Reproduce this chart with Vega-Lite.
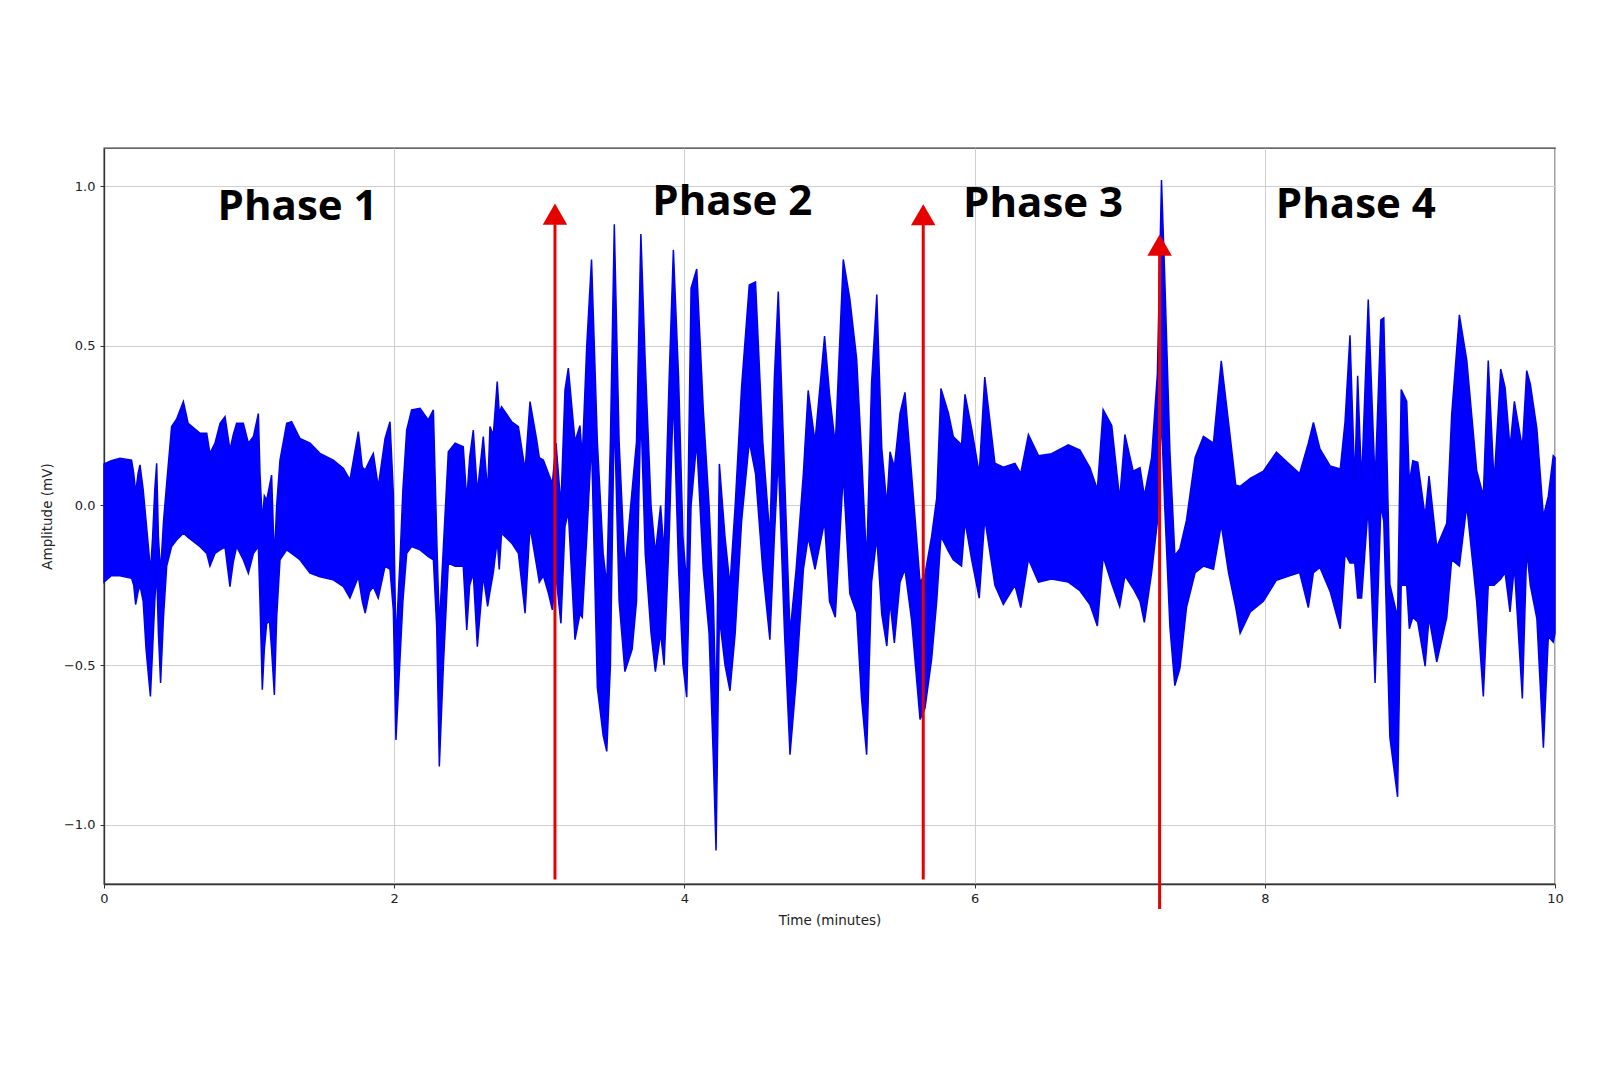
{
  "$schema": "https://vega.github.io/schema/vega-lite/v6.json",
  "autosize": "none",
  "width": 1451,
  "height": 736,
  "padding": {"left": 104, "top": 148, "right": 45, "bottom": 188},
  "background": "white",
  "config": {
    "font": "DejaVu Sans",
    "view": {"stroke": "#333333", "strokeWidth": 1.3},
    "axis": {
      "grid": true,
      "gridColor": "#cfcfcf",
      "gridWidth": 1,
      "domainColor": "#333333",
      "domainWidth": 1.3,
      "tickColor": "#333333",
      "tickSize": 4,
      "labelFont": "DejaVu Sans",
      "labelFontSize": 13,
      "labelColor": "#222222",
      "labelFlush": false,
      "titleFont": "DejaVu Sans",
      "titleFontSize": 13.5,
      "titleFontWeight": "normal",
      "titleColor": "#222222"
    }
  },
  "datasets": {
    "signal": [
      {"time":0.00,"upper":0.13,"lower":-0.24},
      {"time":0.05,"upper":0.14,"lower":-0.22},
      {"time":0.11,"upper":0.148,"lower":-0.22},
      {"time":0.19,"upper":0.142,"lower":-0.228},
      {"time":0.205,"upper":0.10,"lower":-0.25},
      {"time":0.218,"upper":0.04,"lower":-0.31},
      {"time":0.235,"upper":0.10,"lower":-0.27},
      {"time":0.248,"upper":0.127,"lower":-0.25},
      {"time":0.27,"upper":0.05,"lower":-0.3},
      {"time":0.29,"upper":-0.05,"lower":-0.45},
      {"time":0.31,"upper":-0.15,"lower":-0.55},
      {"time":0.32,"upper":-0.21,"lower":-0.598},
      {"time":0.335,"upper":-0.1,"lower":-0.45},
      {"time":0.35,"upper":0.05,"lower":-0.3},
      {"time":0.363,"upper":0.132,"lower":-0.2},
      {"time":0.375,"upper":-0.1,"lower":-0.4},
      {"time":0.39,"upper":-0.21,"lower":-0.556},
      {"time":0.41,"upper":-0.05,"lower":-0.35},
      {"time":0.432,"upper":0.069,"lower":-0.19},
      {"time":0.466,"upper":0.247,"lower":-0.129},
      {"time":0.50,"upper":0.27,"lower":-0.108},
      {"time":0.547,"upper":0.325,"lower":-0.087},
      {"time":0.58,"upper":0.257,"lower":-0.1},
      {"time":0.662,"upper":0.226,"lower":-0.129},
      {"time":0.708,"upper":0.226,"lower":-0.15},
      {"time":0.73,"upper":0.163,"lower":-0.19},
      {"time":0.765,"upper":0.195,"lower":-0.15},
      {"time":0.80,"upper":0.257,"lower":-0.139},
      {"time":0.834,"upper":0.278,"lower":-0.13},
      {"time":0.868,"upper":0.174,"lower":-0.254},
      {"time":0.89,"upper":0.22,"lower":-0.18},
      {"time":0.914,"upper":0.257,"lower":-0.129},
      {"time":0.96,"upper":0.257,"lower":-0.17},
      {"time":0.995,"upper":0.195,"lower":-0.212},
      {"time":1.03,"upper":0.216,"lower":-0.15},
      {"time":1.064,"upper":0.288,"lower":-0.129},
      {"time":1.075,"upper":0.10,"lower":-0.3},
      {"time":1.091,"upper":-0.05,"lower":-0.577},
      {"time":1.105,"upper":0.03,"lower":-0.45},
      {"time":1.121,"upper":0.017,"lower":-0.37},
      {"time":1.14,"upper":0.06,"lower":-0.36},
      {"time":1.155,"upper":0.095,"lower":-0.45},
      {"time":1.174,"upper":-0.17,"lower":-0.593},
      {"time":1.19,"upper":0.0,"lower":-0.35},
      {"time":1.213,"upper":0.142,"lower":-0.17},
      {"time":1.259,"upper":0.257,"lower":-0.139},
      {"time":1.293,"upper":0.262,"lower":-0.15},
      {"time":1.35,"upper":0.21,"lower":-0.17},
      {"time":1.42,"upper":0.195,"lower":-0.212},
      {"time":1.488,"upper":0.163,"lower":-0.223},
      {"time":1.58,"upper":0.142,"lower":-0.233},
      {"time":1.65,"upper":0.116,"lower":-0.254},
      {"time":1.695,"upper":0.08,"lower":-0.29},
      {"time":1.753,"upper":0.231,"lower":-0.223},
      {"time":1.78,"upper":0.12,"lower":-0.3},
      {"time":1.80,"upper":0.111,"lower":-0.337},
      {"time":1.83,"upper":0.14,"lower":-0.27},
      {"time":1.856,"upper":0.163,"lower":-0.254},
      {"time":1.89,"upper":0.059,"lower":-0.29},
      {"time":1.937,"upper":0.21,"lower":-0.19},
      {"time":1.971,"upper":0.262,"lower":-0.2},
      {"time":1.994,"upper":0.038,"lower":-0.327},
      {"time":2.012,"upper":-0.43,"lower":-0.734},
      {"time":2.04,"upper":-0.17,"lower":-0.48},
      {"time":2.06,"upper":0.05,"lower":-0.3},
      {"time":2.086,"upper":0.236,"lower":-0.15},
      {"time":2.12,"upper":0.299,"lower":-0.129},
      {"time":2.178,"upper":0.304,"lower":-0.139},
      {"time":2.235,"upper":0.268,"lower":-0.16},
      {"time":2.27,"upper":0.299,"lower":-0.17},
      {"time":2.293,"upper":-0.1,"lower":-0.38},
      {"time":2.311,"upper":-0.38,"lower":-0.817},
      {"time":2.339,"upper":-0.129,"lower":-0.5},
      {"time":2.373,"upper":0.168,"lower":-0.18},
      {"time":2.42,"upper":0.195,"lower":-0.19},
      {"time":2.476,"upper":0.184,"lower":-0.19},
      {"time":2.50,"upper":0.017,"lower":-0.39},
      {"time":2.52,"upper":0.15,"lower":-0.25},
      {"time":2.545,"upper":0.236,"lower":-0.212},
      {"time":2.573,"upper":0.04,"lower":-0.442},
      {"time":2.614,"upper":0.216,"lower":-0.22},
      {"time":2.644,"upper":0.04,"lower":-0.316},
      {"time":2.66,"upper":0.247,"lower":-0.27},
      {"time":2.683,"upper":0.22,"lower":-0.21},
      {"time":2.71,"upper":0.388,"lower":-0.108},
      {"time":2.724,"upper":0.29,"lower":-0.2},
      {"time":2.74,"upper":0.309,"lower":-0.087},
      {"time":2.81,"upper":0.262,"lower":-0.118},
      {"time":2.856,"upper":0.247,"lower":-0.15},
      {"time":2.902,"upper":0.111,"lower":-0.337},
      {"time":2.936,"upper":0.325,"lower":-0.066},
      {"time":2.982,"upper":0.205,"lower":-0.19},
      {"time":3.0,"upper":0.15,"lower":-0.24},
      {"time":3.028,"upper":0.142,"lower":-0.22},
      {"time":3.063,"upper":0.1,"lower":-0.275},
      {"time":3.09,"upper":0.069,"lower":-0.327},
      {"time":3.115,"upper":0.195,"lower":-0.22},
      {"time":3.149,"upper":0.0,"lower":-0.369},
      {"time":3.177,"upper":0.362,"lower":-0.066},
      {"time":3.20,"upper":0.43,"lower":-0.02},
      {"time":3.246,"upper":0.2,"lower":-0.42},
      {"time":3.28,"upper":0.25,"lower":-0.34},
      {"time":3.296,"upper":0.15,"lower":-0.35},
      {"time":3.327,"upper":0.5,"lower":-0.1},
      {"time":3.36,"upper":0.77,"lower":0.2},
      {"time":3.40,"upper":0.2,"lower":-0.57},
      {"time":3.44,"upper":-0.15,"lower":-0.72},
      {"time":3.465,"upper":-0.25,"lower":-0.77},
      {"time":3.49,"upper":0.2,"lower":-0.5},
      {"time":3.517,"upper":0.88,"lower":0.3},
      {"time":3.55,"upper":0.2,"lower":-0.3},
      {"time":3.59,"upper":-0.2,"lower":-0.52},
      {"time":3.64,"upper":0.05,"lower":-0.45},
      {"time":3.67,"upper":0.2,"lower":-0.3},
      {"time":3.70,"upper":0.85,"lower":0.3},
      {"time":3.73,"upper":0.45,"lower":-0.15},
      {"time":3.77,"upper":0.0,"lower":-0.4},
      {"time":3.80,"upper":-0.15,"lower":-0.52},
      {"time":3.836,"upper":0.0,"lower":-0.4},
      {"time":3.86,"upper":-0.15,"lower":-0.5},
      {"time":3.895,"upper":0.4,"lower":-0.1},
      {"time":3.924,"upper":0.8,"lower":0.35},
      {"time":3.96,"upper":0.4,"lower":-0.2},
      {"time":3.99,"upper":-0.1,"lower":-0.5},
      {"time":4.016,"upper":-0.25,"lower":-0.6},
      {"time":4.046,"upper":0.68,"lower":0.0},
      {"time":4.085,"upper":0.74,"lower":0.2},
      {"time":4.13,"upper":0.3,"lower":-0.2},
      {"time":4.17,"upper":0.0,"lower":-0.4},
      {"time":4.2,"upper":-0.3,"lower":-0.8},
      {"time":4.218,"upper":-0.65,"lower":-1.08},
      {"time":4.241,"upper":0.13,"lower":-0.35},
      {"time":4.28,"upper":-0.1,"lower":-0.5},
      {"time":4.314,"upper":-0.25,"lower":-0.58},
      {"time":4.35,"upper":0.0,"lower":-0.4},
      {"time":4.394,"upper":0.37,"lower":-0.05},
      {"time":4.447,"upper":0.69,"lower":0.2},
      {"time":4.49,"upper":0.7,"lower":0.1},
      {"time":4.54,"upper":0.2,"lower":-0.2},
      {"time":4.589,"upper":-0.1,"lower":-0.42},
      {"time":4.62,"upper":0.4,"lower":-0.1},
      {"time":4.647,"upper":0.67,"lower":0.15},
      {"time":4.69,"upper":0.1,"lower":-0.4},
      {"time":4.728,"upper":-0.4,"lower":-0.78},
      {"time":4.77,"upper":-0.2,"lower":-0.55},
      {"time":4.82,"upper":0.1,"lower":-0.2},
      {"time":4.853,"upper":0.36,"lower":-0.1},
      {"time":4.90,"upper":0.2,"lower":-0.2},
      {"time":4.966,"upper":0.53,"lower":-0.05},
      {"time":5.0,"upper":0.35,"lower":-0.3},
      {"time":5.04,"upper":0.19,"lower":-0.35},
      {"time":5.095,"upper":0.77,"lower":0.1},
      {"time":5.14,"upper":0.647,"lower":-0.276},
      {"time":5.187,"upper":0.46,"lower":-0.336},
      {"time":5.22,"upper":0.168,"lower":-0.6},
      {"time":5.256,"upper":-0.18,"lower":-0.78},
      {"time":5.29,"upper":0.384,"lower":-0.24},
      {"time":5.326,"upper":0.66,"lower":-0.1},
      {"time":5.36,"upper":0.18,"lower":-0.34},
      {"time":5.395,"upper":0.0,"lower":-0.44},
      {"time":5.417,"upper":0.168,"lower":-0.3},
      {"time":5.447,"upper":0.12,"lower":-0.43},
      {"time":5.486,"upper":0.288,"lower":-0.24},
      {"time":5.52,"upper":0.354,"lower":-0.2},
      {"time":5.566,"upper":0.096,"lower":-0.36},
      {"time":5.624,"upper":-0.24,"lower":-0.67},
      {"time":5.658,"upper":-0.216,"lower":-0.635},
      {"time":5.704,"upper":-0.096,"lower":-0.48},
      {"time":5.739,"upper":0.024,"lower":-0.3},
      {"time":5.768,"upper":0.366,"lower":-0.096},
      {"time":5.82,"upper":0.288,"lower":-0.144},
      {"time":5.853,"upper":0.216,"lower":-0.17},
      {"time":5.91,"upper":0.19,"lower":-0.19},
      {"time":5.934,"upper":0.348,"lower":-0.05},
      {"time":5.98,"upper":0.24,"lower":-0.17},
      {"time":6.032,"upper":0.1,"lower":-0.29},
      {"time":6.07,"upper":0.402,"lower":-0.04},
      {"time":6.14,"upper":0.132,"lower":-0.25},
      {"time":6.198,"upper":0.12,"lower":-0.31},
      {"time":6.278,"upper":0.132,"lower":-0.25},
      {"time":6.318,"upper":0.1,"lower":-0.32},
      {"time":6.371,"upper":0.222,"lower":-0.168},
      {"time":6.44,"upper":0.156,"lower":-0.24},
      {"time":6.53,"upper":0.162,"lower":-0.23},
      {"time":6.646,"upper":0.19,"lower":-0.24},
      {"time":6.726,"upper":0.173,"lower":-0.267},
      {"time":6.795,"upper":0.118,"lower":-0.31},
      {"time":6.846,"upper":0.05,"lower":-0.377},
      {"time":6.886,"upper":0.3,"lower":-0.16},
      {"time":6.945,"upper":0.25,"lower":-0.245},
      {"time":7.0,"upper":0.02,"lower":-0.316},
      {"time":7.036,"upper":0.222,"lower":-0.22},
      {"time":7.093,"upper":0.107,"lower":-0.26},
      {"time":7.14,"upper":0.118,"lower":-0.3},
      {"time":7.17,"upper":0.03,"lower":-0.366},
      {"time":7.22,"upper":0.15,"lower":-0.21},
      {"time":7.26,"upper":0.414,"lower":-0.05},
      {"time":7.288,"upper":1.019,"lower":0.28},
      {"time":7.31,"upper":0.72,"lower":0.0},
      {"time":7.346,"upper":0.17,"lower":-0.38},
      {"time":7.38,"upper":-0.157,"lower":-0.564},
      {"time":7.415,"upper":-0.135,"lower":-0.51},
      {"time":7.46,"upper":-0.047,"lower":-0.32},
      {"time":7.52,"upper":0.15,"lower":-0.21},
      {"time":7.577,"upper":0.216,"lower":-0.19},
      {"time":7.646,"upper":0.195,"lower":-0.2},
      {"time":7.7,"upper":0.453,"lower":-0.06},
      {"time":7.75,"upper":0.26,"lower":-0.21},
      {"time":7.80,"upper":0.063,"lower":-0.32},
      {"time":7.83,"upper":0.06,"lower":-0.4},
      {"time":7.9,"upper":0.085,"lower":-0.333},
      {"time":7.99,"upper":0.107,"lower":-0.3},
      {"time":8.08,"upper":0.167,"lower":-0.234},
      {"time":8.17,"upper":0.129,"lower":-0.22},
      {"time":8.24,"upper":0.1,"lower":-0.21},
      {"time":8.3,"upper":0.195,"lower":-0.32},
      {"time":8.335,"upper":0.26,"lower":-0.21},
      {"time":8.38,"upper":0.177,"lower":-0.194},
      {"time":8.45,"upper":0.124,"lower":-0.269},
      {"time":8.52,"upper":0.114,"lower":-0.386},
      {"time":8.553,"upper":0.262,"lower":-0.15},
      {"time":8.587,"upper":0.533,"lower":-0.18},
      {"time":8.62,"upper":0.07,"lower":-0.18},
      {"time":8.64,"upper":0.406,"lower":-0.29},
      {"time":8.667,"upper":0.07,"lower":-0.29},
      {"time":8.713,"upper":0.645,"lower":0.0},
      {"time":8.76,"upper":0.07,"lower":-0.556},
      {"time":8.80,"upper":0.581,"lower":0.0},
      {"time":8.82,"upper":0.587,"lower":-0.05},
      {"time":8.862,"upper":-0.248,"lower":-0.726},
      {"time":8.915,"upper":-0.35,"lower":-0.912},
      {"time":8.94,"upper":0.363,"lower":-0.25},
      {"time":8.978,"upper":0.326,"lower":-0.25},
      {"time":8.996,"upper":0.07,"lower":-0.386},
      {"time":9.02,"upper":0.14,"lower":-0.35},
      {"time":9.054,"upper":0.135,"lower":-0.365},
      {"time":9.105,"upper":-0.035,"lower":-0.503},
      {"time":9.132,"upper":0.092,"lower":-0.35},
      {"time":9.185,"upper":-0.13,"lower":-0.49},
      {"time":9.254,"upper":-0.056,"lower":-0.35},
      {"time":9.288,"upper":0.284,"lower":-0.17},
      {"time":9.341,"upper":0.597,"lower":-0.19},
      {"time":9.392,"upper":0.454,"lower":0.0},
      {"time":9.46,"upper":0.11,"lower":-0.3},
      {"time":9.506,"upper":0.03,"lower":-0.598},
      {"time":9.54,"upper":0.454,"lower":-0.25},
      {"time":9.58,"upper":0.07,"lower":-0.25},
      {"time":9.626,"upper":0.427,"lower":-0.23},
      {"time":9.656,"upper":0.369,"lower":-0.21},
      {"time":9.69,"upper":0.18,"lower":-0.333},
      {"time":9.72,"upper":0.326,"lower":-0.19},
      {"time":9.775,"upper":0.18,"lower":-0.604},
      {"time":9.805,"upper":0.422,"lower":-0.14},
      {"time":9.83,"upper":0.38,"lower":-0.25},
      {"time":9.875,"upper":0.241,"lower":-0.354},
      {"time":9.92,"upper":-0.035,"lower":-0.758},
      {"time":9.954,"upper":0.029,"lower":-0.41},
      {"time":9.988,"upper":0.156,"lower":-0.428},
      {"time":10.0,"upper":0.15,"lower":-0.4}
    ],
    "arrows": [
      {"time":3.108,"bottom":-1.171,"top":0.88,"head":0.912},
      {"time":5.646,"bottom":-1.171,"top":0.88,"head":0.91},
      {"time":7.275,"bottom":-1.263,"top":0.79,"head":0.815}
    ],
    "labels": [
      {"time":1.334,"value":0.894,"label":"Phase 1"},
      {"time":4.33,"value":0.909,"label":"Phase 2"},
      {"time":6.472,"value":0.904,"label":"Phase 3"},
      {"time":8.627,"value":0.899,"label":"Phase 4"}
    ]
  },
  "layer": [
    {
      "data": {"name": "signal"},
      "mark": {"type": "area", "color": "#0000ff", "stroke": "#0000ee", "strokeWidth": 1.5, "fillOpacity": 1, "interpolate": "linear"},
      "encoding": {
        "x": {"field": "time", "type": "quantitative", "scale": {"domain": [0, 10], "nice": false, "zero": false},
              "axis": {"values": [0, 2, 4, 6, 8, 10], "format": "d", "title": "Time (minutes)", "labelPadding": 4, "titlePadding": 8}},
        "y": {"field": "upper", "type": "quantitative", "scale": {"domain": [-1.185, 1.119], "nice": false, "zero": false},
              "axis": {"values": [-1, -0.5, 0, 0.5, 1], "format": ".1f", "title": "Amplitude (mV)", "labelPadding": 5, "titlePadding": 9}},
        "y2": {"field": "lower"}
      }
    },
    {
      "data": {"name": "arrows"},
      "mark": {"type": "rule", "color": "#e60000", "strokeWidth": 3},
      "encoding": {
        "x": {"field": "time", "type": "quantitative"},
        "y": {"field": "bottom", "type": "quantitative"},
        "y2": {"field": "top"}
      }
    },
    {
      "data": {"name": "arrows"},
      "mark": {"type": "point", "shape": "triangle-up", "filled": true, "color": "#e60000", "opacity": 1, "size": 600},
      "encoding": {
        "x": {"field": "time", "type": "quantitative"},
        "y": {"field": "head", "type": "quantitative"}
      }
    },
    {
      "data": {"name": "labels"},
      "mark": {"type": "text", "font": "Open Sans", "fontWeight": "bold", "fontSize": 42, "align": "center", "baseline": "alphabetic", "color": "#000000"},
      "encoding": {
        "x": {"field": "time", "type": "quantitative"},
        "y": {"field": "value", "type": "quantitative"},
        "text": {"field": "label"}
      }
    }
  ]
}
